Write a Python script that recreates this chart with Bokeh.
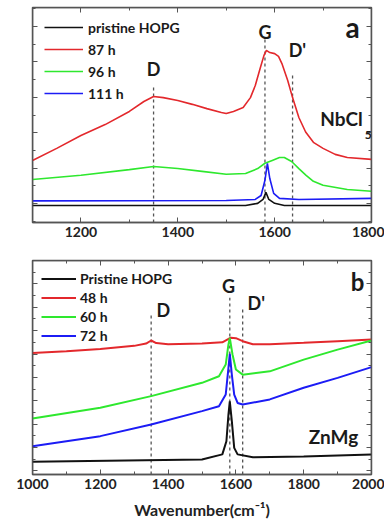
from bokeh.plotting import figure
from bokeh.models import (Range1d, FixedTicker, LinearAxis, Legend, LegendItem, Label,
                          CustomLabelingPolicy)
from bokeh.layouts import column
from bokeh.embed import file_html
from bokeh.resources import INLINE

# ---------------- Panel a data (NbCl5) ----------------
a_pristine_x = [1100, 1540, 1565, 1576, 1582, 1588, 1600, 1620, 1800]
a_pristine_y = [-0.05, -0.05, 0.01, 0.12, 0.32, 0.12, 0.01, -0.05, -0.05]

a_87_x = [1100, 1150, 1200, 1250, 1300, 1330, 1350, 1370, 1400, 1430, 1460, 1490, 1500,
          1515, 1535, 1550, 1560, 1570, 1578, 1583, 1590, 1600, 1608, 1615, 1627, 1637,
          1650, 1664, 1680, 1700, 1725, 1750, 1800]
a_87_y = [1.22, 1.56, 1.92, 2.23, 2.60, 2.88, 3.02, 2.99, 2.91, 2.80, 2.68, 2.57, 2.54,
          2.60, 2.71, 2.99, 3.33, 3.81, 4.18, 4.32, 4.26, 4.23, 4.15, 3.95, 3.47, 2.99,
          2.43, 2.02, 1.73, 1.56, 1.39, 1.30, 1.25]

a_96_x = [1100, 1200, 1300, 1350, 1400, 1450, 1500, 1540, 1565, 1580, 1595, 1610, 1620,
          1635, 1650, 1665, 1680, 1700, 1750, 1800]
a_96_y = [0.68, 0.80, 0.96, 1.05, 0.99, 0.91, 0.83, 0.85, 0.99, 1.14, 1.22, 1.30, 1.30,
          1.19, 0.99, 0.80, 0.63, 0.52, 0.40, 0.35]

a_111_x = [1100, 1500, 1560, 1572, 1580, 1585, 1590, 1598, 1610, 1650, 1800]
a_111_y = [0.08, 0.09, 0.12, 0.23, 0.66, 1.14, 0.71, 0.29, 0.15, 0.12, 0.15]

a_marks_x = [1350, 1580, 1637]
a_marks_top = [3.28, 4.66, 3.61]

# ---------------- Panel b data (ZnMg) ----------------
b_pristine_x = [1000, 1500, 1560, 1572, 1578, 1582, 1588, 1595, 1605, 1650, 1800, 2000]
b_pristine_y = [0.39, 0.49, 0.71, 1.27, 2.41, 2.98, 2.13, 0.99, 0.71, 0.59, 0.62, 0.71]

b_48_x = [1000, 1100, 1200, 1300, 1335, 1350, 1365, 1400, 1500, 1560, 1585, 1600, 1620,
          1650, 1700, 1800, 1900, 2000]
b_48_y = [5.05, 5.12, 5.22, 5.35, 5.45, 5.58, 5.47, 5.42, 5.45, 5.50, 5.70, 5.68, 5.55,
          5.42, 5.42, 5.48, 5.55, 5.62]

b_60_x = [1000, 1200, 1350, 1500, 1550, 1570, 1578, 1582, 1590, 1600, 1620, 1700, 1800,
          1900, 2000]
b_60_y = [2.24, 2.70, 3.20, 3.77, 4.05, 4.55, 5.41, 5.69, 4.98, 4.34, 4.12, 4.26, 4.76,
          5.19, 5.58]

b_72_x = [1000, 1200, 1350, 1500, 1550, 1570, 1578, 1582, 1588, 1595, 1605, 1620, 1700,
          1800, 1900, 2000]
b_72_y = [1.06, 1.49, 1.99, 2.56, 2.77, 3.27, 4.41, 5.01, 4.12, 3.27, 2.91, 2.84, 3.06,
          3.56, 3.98, 4.44]

b_marks_x = [1350, 1582, 1620]
b_marks_top = [6.69, 7.41, 6.99]

a_labels = ["pristine HOPG", "87 h", "96 h", "111 h"]
b_labels = ["Pristine HOPG", "48 h", "60 h", "72 h"]

a_xticks = [1200, 1400, 1600, 1800]
a_xminor = [1100, 1300, 1500, 1700]
b_xticks = [1000, 1200, 1400, 1600, 1800, 2000]
b_xminor = [1100, 1300, 1500, 1700, 1900]

# ---------------- styles ----------------
FONT = "Lato"
BLACK = "#111111"
RED = "#e3282c"
GREEN = "#2ee82e"
BLUE = "#1c1cf5"
FRAME = "#555555"
DASH = "#555555"


def style_axes(p, xt, xm, yt, ym):
    xr, yr = p.x_range, p.y_range
    bottom = p.below[0]
    left = p.left[0]
    bottom.ticker = FixedTicker(ticks=xt, minor_ticks=xm)
    left.ticker = FixedTicker(ticks=yt, minor_ticks=ym)
    left.fixed_location = xr.start
    top = LinearAxis(ticker=FixedTicker(ticks=xt, minor_ticks=xm), fixed_location=yr.end)
    right = LinearAxis(ticker=FixedTicker(ticks=yt, minor_ticks=ym), fixed_location=xr.end)
    p.add_layout(top, "above")
    p.add_layout(right, "right")
    for ax in [bottom, left, top, right]:
        ax.major_tick_in = 5
        ax.major_tick_out = 0
        ax.minor_tick_in = 3
        ax.minor_tick_out = 0
        ax.axis_line_color = FRAME
        ax.axis_line_width = 1.5
        ax.major_tick_line_color = FRAME
        ax.minor_tick_line_color = FRAME
        ax.major_label_text_font = FONT
        ax.major_label_text_font_style = "bold"
        ax.major_label_text_color = "#222222"
        ax.major_label_text_font_size = "14px"
    for ax in [left, top, right]:
        ax.major_label_policy = CustomLabelingPolicy(code="return []")
        ax.major_label_text_font_size = "1px"
        ax.major_label_standoff = 0
    bottom.major_label_standoff = 4
    p.outline_line_color = FRAME
    p.outline_line_width = 1.5
    p.xgrid.visible = False
    p.ygrid.visible = False
    return bottom


def label(p, x, y, text, size, align="center"):
    p.add_layout(Label(x=x, y=y, text=text, text_font=FONT, text_font_style="bold",
                       text_font_size=size, text_align=align, text_baseline="middle",
                       text_color="#1a1a1a"))


# ---------------- Panel a ----------------
pa = figure(width=384, height=250, output_backend="svg", toolbar_location=None, title=None,
            x_range=Range1d(1100, 1800), y_range=Range1d(-0.53, 5.53),
            min_border_left=31, min_border_right=11, min_border_top=7, min_border_bottom=28)
style_axes(pa, a_xticks, a_xminor, [0, 1, 2, 3, 4, 5],
           [-0.5, 0.5, 1.5, 2.5, 3.5, 4.5, 5.5])

pa.segment(x0=a_marks_x, y0=[-0.53] * 3, x1=a_marks_x, y1=a_marks_top,
           line_color=DASH, line_dash="3 3", line_width=1.3)
ra0 = pa.line(a_pristine_x, a_pristine_y, line_color=BLACK, line_width=1.6)
ra1 = pa.line(a_87_x, a_87_y, line_color=RED, line_width=1.6)
ra2 = pa.line(a_96_x, a_96_y, line_color=GREEN, line_width=1.6)
ra3 = pa.line(a_111_x, a_111_y, line_color=BLUE, line_width=1.6)

leg_a = Legend(items=[LegendItem(label=l, renderers=[r]) for l, r in
                      zip(a_labels, [ra0, ra1, ra2, ra3])],
               location=(12, 119), border_line_color=None, background_fill_alpha=0,
               glyph_width=39, glyph_height=20, spacing=2, label_standoff=5,
               padding=0, margin=0, label_text_font=FONT, label_text_font_style="bold",
               label_text_font_size="14px", label_text_color="#1a1a1a")
pa.add_layout(leg_a, "center")

label(pa, 1350, 3.81, "D", "18px")
label(pa, 1580, 4.83, "G", "18px")
label(pa, 1647, 4.32, "D'", "18px")
label(pa, 1761, 4.97, "a", "28px")
label(pa, 1782, 2.40, "NbCl", "19px", align="right")
label(pa, 1786, 1.95, "5", "12px", align="left")

# ---------------- Panel b ----------------
pb = figure(width=384, height=272, output_backend="svg", toolbar_location=None, title=None,
            x_range=Range1d(1000, 2000), y_range=Range1d(-0.15, 9.0),
            min_border_left=32, min_border_right=13, min_border_top=10, min_border_bottom=48)
bx = style_axes(pb, b_xticks, b_xminor, list(range(0, 9)),
                [0.5 + i for i in range(-1, 9)])
bx.axis_label = "Wavenumber(cm\u207b\u00b9)"
bx.axis_label_text_font = FONT
bx.axis_label_text_font_style = "bold"
bx.axis_label_text_font_size = "16px"
bx.axis_label_text_color = "#222222"
bx.axis_label_standoff = 8

pb.segment(x0=b_marks_x, y0=[-0.15] * 3, x1=b_marks_x, y1=b_marks_top,
           line_color=DASH, line_dash="3 3", line_width=1.3)
rb1 = pb.line(b_48_x, b_48_y, line_color=RED, line_width=2)
rb2 = pb.line(b_60_x, b_60_y, line_color=GREEN, line_width=2)
rb3 = pb.line(b_72_x, b_72_y, line_color=BLUE, line_width=2)
rb0 = pb.line(b_pristine_x, b_pristine_y, line_color=BLACK, line_width=2)

leg_b = Legend(items=[LegendItem(label=l, renderers=[r]) for l, r in
                      zip(b_labels, [rb0, rb1, rb2, rb3])],
               location=(9, 130), border_line_color=None, background_fill_alpha=0,
               glyph_width=35, glyph_height=17, spacing=2, label_standoff=4,
               padding=0, margin=0, label_text_font=FONT, label_text_font_style="bold",
               label_text_font_size="14px", label_text_color="#1a1a1a")
pb.add_layout(leg_b, "center")

label(pb, 1386, 6.90, "D", "18px")
label(pb, 1578, 7.90, "G", "18px")
label(pb, 1660, 7.20, "D'", "18px")
label(pb, 1959, 8.10, "b", "24px")
label(pb, 1888, 1.47, "ZnMg", "19px")

layout = column(pa, pb)
open("out.html", "w").write(file_html(layout, INLINE))
